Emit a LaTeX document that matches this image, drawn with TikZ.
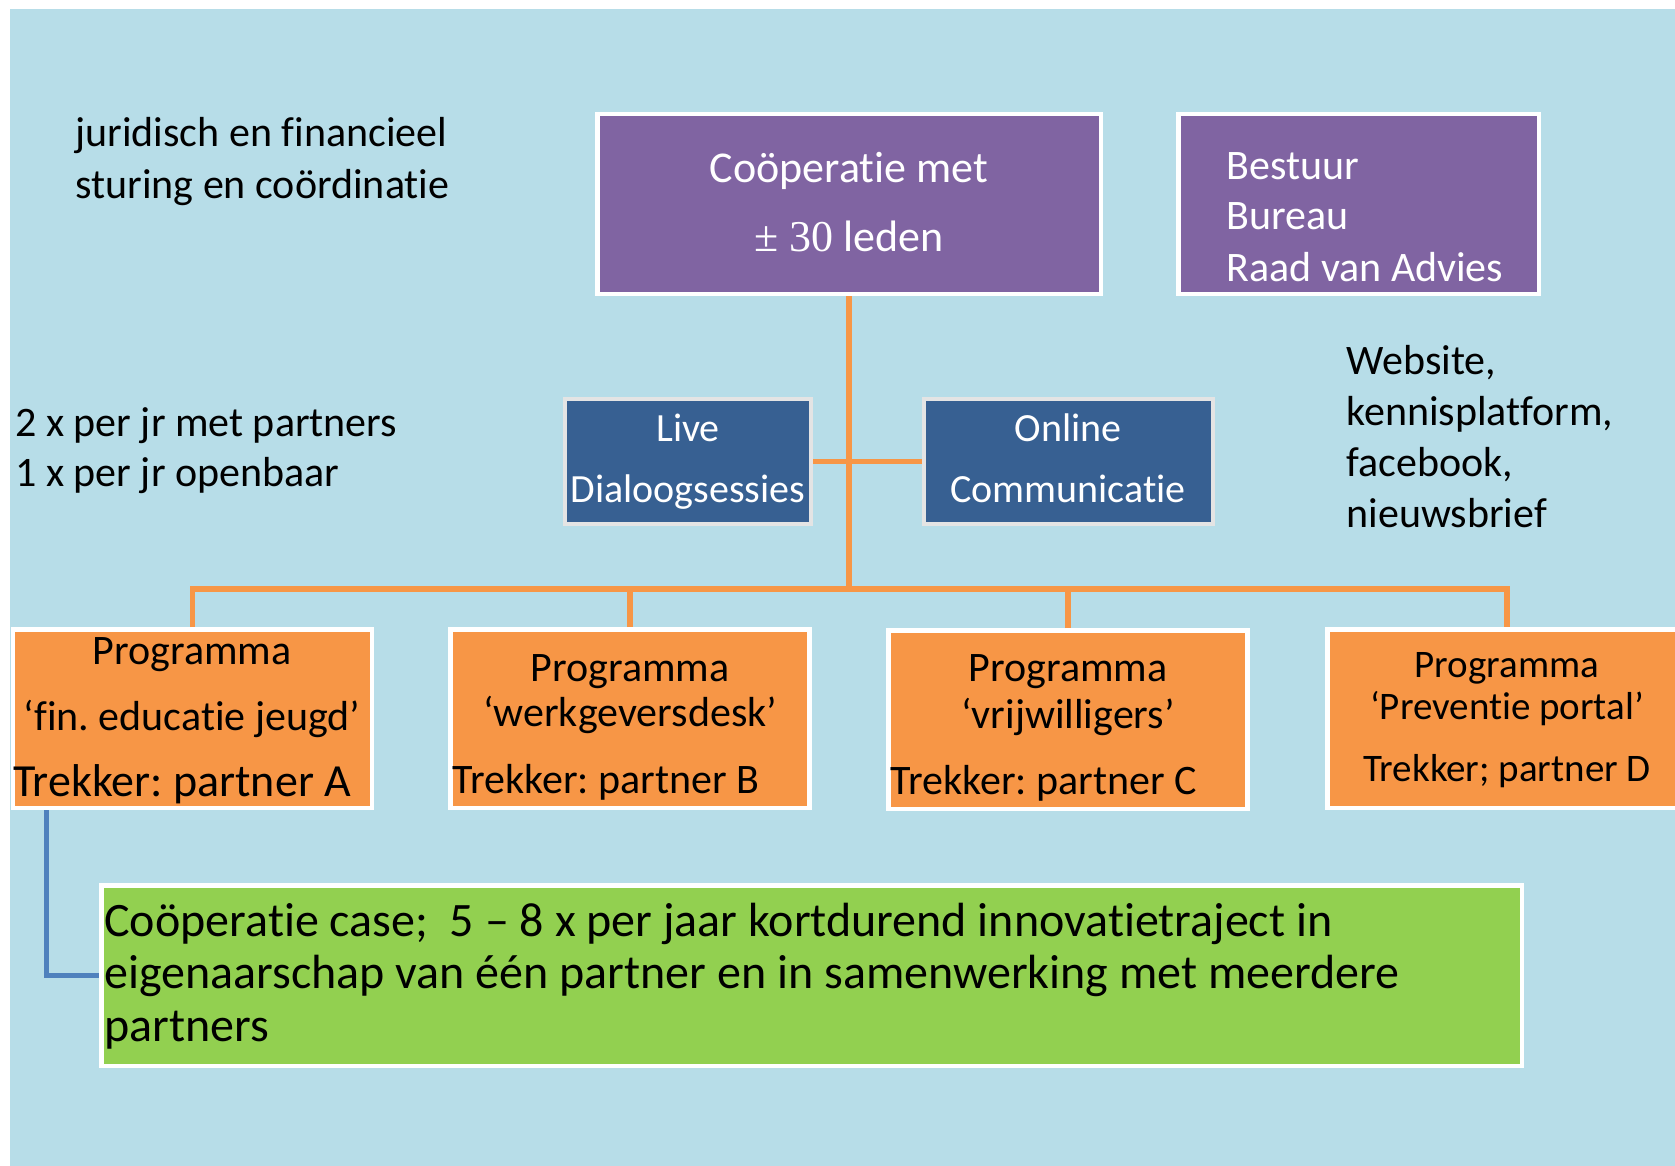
\documentclass[tikz,border=0pt]{standalone}
\usepackage{fontspec}
\setmainfont{Carlito}[Ligatures={TeX,NoCommon}]
\newfontfamily\timesfont{Liberation Serif}
\usepackage{tikz}
\frenchspacing
\definecolor{cBg}{HTML}{B7DDE8}
\definecolor{cPurple}{HTML}{8064A2}
\definecolor{cNavy}{HTML}{376092}
\definecolor{cOrange}{HTML}{F79646}
\definecolor{cGreen}{HTML}{92D050}
\definecolor{cBlue}{HTML}{4F81BD}
\definecolor{cGray}{HTML}{E4E4E4}
\tikzset{
  box/.style={draw=white, line width=2.25pt, inner sep=0pt},
  pbox/.style={box, fill=cPurple, minimum height=89.75pt},
  nbox/.style={box, draw=cGray, line width=2pt, fill=cNavy, minimum height=62.5pt},
  obox/.style={box, fill=cOrange, minimum width=179.5pt, minimum height=89.25pt},
  gbox/.style={box, fill=cGreen, minimum width=710.25pt, minimum height=90.25pt},
  txt/.style={inner sep=0pt, align=left, font=\fontsize{21pt}{26pt}\selectfont},
  oline/.style={cOrange, line width=2.75pt},
  bline/.style={cBlue, line width=2.6pt}
}
\begin{document}
\begin{tikzpicture}[x=0.5pt,y=-0.5pt]
\useasboundingbox (0,0) rectangle (1675,1166);
\fill[cBg] (10,9) rectangle (1675,1166);
\coordinate (hub) at (849,589);
\node[pbox, minimum width=251.75pt] (coop) at (849,204) {};
\node[pbox, minimum width=180.25pt] (bur) at (1358.5,204) {};
\node[nbox, minimum width=123pt] (live) at (688,461.5) {};
\node[nbox, minimum width=144.5pt] (onl) at (1068.5,461.5) {};
\node[obox] (pa) at (192.5,718.5) {};
\node[obox] (pb) at (630,718.5) {};
\node[obox] (pc) at (1068,719.5) {};
\node[obox] (pd) at (1507,718.5) {};
\node[gbox] (cs) at (811.5,975.5) {};
\draw[oline] (coop) -- (hub);
\draw[oline] (pa.north) |- (hub) -| (pd.north);
\draw[oline] (pb.north) -- (pb.north |- hub);
\draw[oline] (pc.north) -- (pc.north |- hub);
\draw[oline] (live) -- (onl);
\draw[bline] (pa.south west) ++(36,0) |- (cs);
\node[txt, anchor=base west] (jur) at (75,199) {juridisch en financieel\\sturing en coördinatie};
\node[txt, white, align=center, anchor=base, font=\fontsize{22pt}{35pt}\selectfont] (coopt) at (849,252) {Coöperatie met\\{\timesfont ± 30} leden};
\node[txt, white, anchor=base west, font=\fontsize{21pt}{25.5pt}\selectfont] (burt) at (1226,281) {Bestuur\\Bureau\\Raad van Advies};
\node[txt, anchor=base west, font=\fontsize{21pt}{25.5pt}\selectfont] (web) at (1346,527) {Website,\\kennisplatform,\\facebook,\\nieuwsbrief};
\node[txt, anchor=base west, font=\fontsize{21pt}{25pt}\selectfont] (freq) at (15,486) {2 x per jr met partners\\1 x per jr openbaar};
\node[txt, white, align=center, anchor=base, font=\fontsize{20pt}{30.5pt}\selectfont] (livet) at (688,502) {Live\\Dialoogsessies};
\node[txt, white, align=center, anchor=base, font=\fontsize{20pt}{30.5pt}\selectfont] (onlt) at (1068,502) {Online\\Communicatie};
\node[txt, align=center, anchor=base, font=\fontsize{21pt}{33pt}\selectfont] (pat) at (192,730) {Programma\\‘fin. educatie jeugd’};
\node[txt, anchor=base west, font=\fontsize{23pt}{28pt}\selectfont] (pak) at (13,796) {Trekker: partner A};
\node[txt, align=center, anchor=base, font=\fontsize{21pt}{22.5pt}\selectfont] (pbt) at (630,726) {Programma\\‘werkgeversdesk’};
\node[txt, anchor=base west] (pbk) at (452,793) {Trekker: partner B};
\node[txt, align=center, anchor=base, font=\fontsize{21pt}{23.5pt}\selectfont] (pct) at (1068,728) {Programma\\‘vrijwilligers’};
\node[txt, anchor=base west] (pck) at (890,794) {Trekker: partner C};
\node[txt, align=center, anchor=base, font=\fontsize{19.5pt}{21pt}\selectfont] (pdt) at (1507,781) {Programma\\‘Preventie portal’\\[10pt]Trekker; partner D};
\node[txt, anchor=base west, font=\fontsize{24pt}{26.25pt}\selectfont] (cst) at (104,1041) {Coöperatie case;~ 5 – 8 x per jaar kortdurend innovatietraject in\\eigenaarschap van één partner en in samenwerking met meerdere\\partners};
\end{tikzpicture}
\end{document}
